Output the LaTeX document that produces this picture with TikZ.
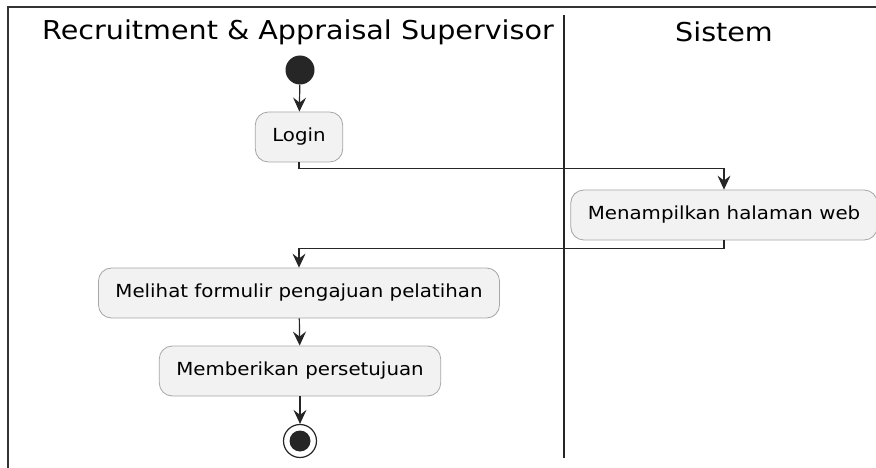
\documentclass[tikz,border=0pt]{standalone}
\usepackage{fontspec}
\setmainfont[FakeStretch=1.1]{DejaVu Sans}
\usetikzlibrary{arrows.meta}

\tikzset{
  act/.style={draw=gray!70, fill=gray!10, rounded corners=13pt, line width=0.8pt,
    minimum height=50pt, inner xsep=17pt, font=\fontsize{18}{21}\selectfont},
  flow/.style={draw=black!85, line width=1.2pt, -{Stealth[length=14pt, width=13pt, inset=5pt]}},
  lane/.style={font=\fontsize{26}{29}\selectfont}
}

\begin{document}
\begin{tikzpicture}[x=1pt, y=-1pt]
\useasboundingbox (0,0) rectangle (876,468);
% frame and lanes
\draw [black!80, line width=1.2pt] (8,468) -- (8,7) -- (876,7);
\draw [black!85, line width=1.6pt] (564,15) -- (564,458);
\node [lane] (lanea) at (298,32) {Recruitment \& Appraisal Supervisor};
\node [lane] (laneb) at (724,32) {Sistem};

% activities
\node [circle, fill=black!85, minimum size=29pt, inner sep=0pt] (start) at (300,70) {};
\node [act] (login) at (299,137) {Login};
\node [act] (tampil) at (724,215) {Menampilkan halaman web};
\node [act] (lihat) at (299,293) {Melihat formulir pengajuan pelatihan};
\node [act] (setuju) at (300,371) {Memberikan persetujuan};
\node [circle, draw=black!85, line width=1.2pt, minimum size=33pt, inner sep=0pt] (stop) at (300,441) {};
\node [circle, fill=black!85, minimum size=21pt, inner sep=0pt] (stopdot) at (300,441) {};

\draw [flow] (start) -- (login);
\draw [flow] (login.south) -- ++(0,6) -| (tampil.north);
\draw [flow] (tampil.south) -- ++(0,8) -| (lihat.north);
\draw [flow] (lihat) -- (setuju);
\draw [flow] (setuju) -- (stop);
\end{tikzpicture}
\end{document}
